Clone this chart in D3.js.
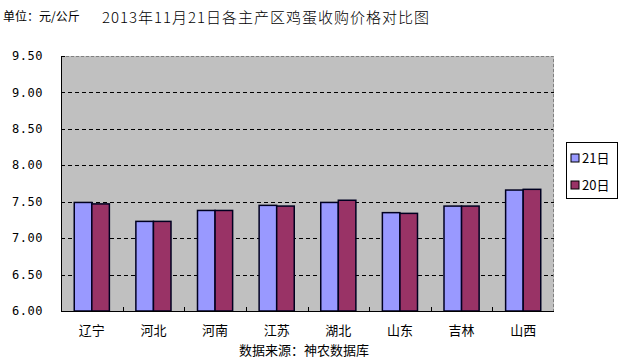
<!DOCTYPE html>
<html>
<head>
<meta charset="utf-8">
<script src="https://cdn.jsdelivr.net/npm/d3@7"></script>
<style>
  body { margin: 0; background: #fff; }
  text { font-family: "Noto Sans CJK SC", "DejaVu Sans", sans-serif; fill: #000; }
</style>
</head>
<body>
<div id="chart"></div>
<script>
var categories = ['辽宁', '河北', '河南', '江苏', '湖北', '山东', '吉林', '山西'];
var seriesNames = ['21日', '20日'];
var values21 = [7.49, 7.23, 7.38, 7.45, 7.49, 7.35, 7.44, 7.66];
var values20 = [7.47, 7.23, 7.38, 7.44, 7.52, 7.34, 7.44, 7.67];
var yTicks = [6.00, 6.50, 7.00, 7.50, 8.00, 8.50, 9.00, 9.50];
var colors = ['#9999ff', '#993366'];

var width = 625, height = 362;
var margin = {top: 56, right: 71, bottom: 51, left: 61};
var w = width - margin.left - margin.right,
    h = height - margin.top - margin.bottom;

var svg = d3.select('#chart').append('svg')
  .attr('width', width)
  .attr('height', height);

var x = d3.scaleBand().domain(categories).range([0, w]).paddingInner(0.43).paddingOuter(0.215);
var x1 = d3.scaleBand().domain(seriesNames).range([0, x.bandwidth()]);
var y = d3.scaleLinear().domain([6, 9.5]).range([h, 0]);
var step = w / categories.length;

var g = svg.append('g').attr('transform', 'translate(' + margin.left + ',' + margin.top + ')');

// plot background
g.append('rect')
  .attr('width', w).attr('height', h)
  .attr('fill', '#c0c0c0');

// gridlines
g.selectAll('.grid')
  .data(yTicks.slice(1, -1))
  .enter().append('line')
  .attr('x1', 0).attr('x2', w)
  .attr('y1', function(d) { return Math.round(y(d)) + 0.5; })
  .attr('y2', function(d) { return Math.round(y(d)) + 0.5; })
  .attr('stroke', '#000')
  .attr('stroke-dasharray', '4,3');

// top / right dashed border
g.append('path')
  .attr('d', 'M0,0.5H' + (w - 0.5) + 'V' + h)
  .attr('fill', 'none')
  .attr('stroke', '#808080')
  .attr('stroke-dasharray', '3,2');

// bars
var data = categories.map(function(c, i) {
  return {cat: c, vals: [values21[i], values20[i]]};
});

var groups = g.selectAll('.grp')
  .data(data)
  .enter().append('g')
  .attr('transform', function(d) { return 'translate(' + x(d.cat) + ',0)'; });

groups.selectAll('rect')
  .data(function(d) { return d.vals.map(function(v, j) { return {name: seriesNames[j], v: v, j: j}; }); })
  .enter().append('rect')
  .attr('x', function(d) { return x1(d.name); })
  .attr('y', function(d) { return y(d.v); })
  .attr('width', x1.bandwidth())
  .attr('height', function(d) { return h - y(d.v); })
  .attr('fill', function(d) { return colors[d.j]; })
  .attr('stroke', '#000020')
  .attr('stroke-width', 1.5);

// axes
g.append('line')
  .attr('x1', 0.5).attr('x2', 0.5).attr('y1', 0).attr('y2', h)
  .attr('stroke', '#000');
g.append('line')
  .attr('x1', 0).attr('x2', w).attr('y1', h + 0.5).attr('y2', h + 0.5)
  .attr('stroke', '#000');

// y ticks
g.selectAll('.ytick')
  .data(yTicks)
  .enter().append('line')
  .attr('x1', 0).attr('x2', 4)
  .attr('y1', function(d) { return Math.round(y(d)) + 0.5; })
  .attr('y2', function(d) { return Math.round(y(d)) + 0.5; })
  .attr('stroke', '#000');

g.selectAll('.ylab')
  .data(yTicks)
  .enter().append('text')
  .attr('x', -18)
  .attr('y', function(d) { return y(d); })
  .attr('dy', '0.35em')
  .attr('text-anchor', 'end')
  .style('font-family', '"DejaVu Sans Mono", monospace')
  .style('font-size', '12px')
  .style('letter-spacing', '0.5px')
  .text(function(d) { return d.toFixed(2); });

// x ticks at category boundaries
g.selectAll('.xtick')
  .data(d3.range(1, categories.length))
  .enter().append('line')
  .attr('x1', function(d) { return Math.round(d * step) + 0.5; })
  .attr('x2', function(d) { return Math.round(d * step) + 0.5; })
  .attr('y1', h).attr('y2', h - 4)
  .attr('stroke', '#000');

g.selectAll('.xlab')
  .data(categories)
  .enter().append('text')
  .attr('x', function(d) { return x(d) + x.bandwidth() / 2; })
  .attr('y', h + 19)
  .attr('dy', '0.35em')
  .attr('text-anchor', 'middle')
  .style('font-size', '13px')
  .text(function(d) { return d; });

// titles
svg.append('text')
  .attr('x', 266).attr('y', 18)
  .attr('dy', '0.35em')
  .attr('text-anchor', 'middle')
  .style('font-family', '"Noto Sans CJK SC", "Liberation Serif", serif')
  .style('font-size', '15px')
  .style('letter-spacing', '1px')
  .style('font-weight', 300)
  .text('2013年11月21日各主产区鸡蛋收购价格对比图');

svg.append('text')
  .attr('x', 3).attr('y', 17)
  .attr('dy', '0.35em')
  .style('font-size', '12px')
  .text('单位：元/公斤');

svg.append('text')
  .attr('x', 304).attr('y', 350)
  .attr('dy', '0.35em')
  .attr('text-anchor', 'middle')
  .style('font-size', '13px')
  .text('数据来源：神农数据库');

// legend
var legend = svg.append('g').attr('transform', 'translate(566,142)');
legend.append('rect')
  .attr('x', 0.5).attr('y', 0.5)
  .attr('width', 51).attr('height', 56)
  .attr('fill', '#fff')
  .attr('stroke', '#000');

seriesNames.forEach(function(n, i) {
  var item = legend.append('g').attr('transform', 'translate(5,' + (16 + i * 27) + ')');
  item.append('rect')
    .attr('x', 0).attr('y', -4)
    .attr('width', 8).attr('height', 8)
    .attr('fill', colors[i])
    .attr('stroke', '#000');
  item.append('text')
    .attr('x', 11).attr('y', 0)
    .attr('dy', '0.35em')
    .style('font-size', '13px')
    .text(n);
});
</script>
</body>
</html>
